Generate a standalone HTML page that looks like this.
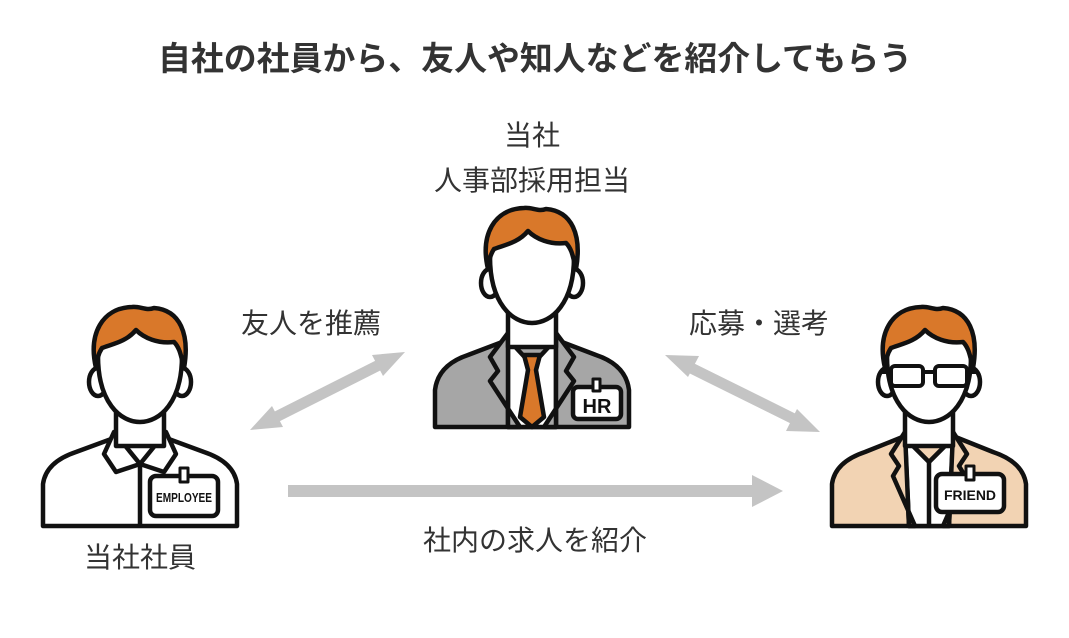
<!DOCTYPE html>
<html><head><meta charset="utf-8"><style>
body{margin:0;background:#fff;}
svg{display:block}
text{font-family:"Liberation Sans","Noto Sans CJK JP",sans-serif;fill:#333}
</style></head><body>
<svg width="1069" height="638" viewBox="0 0 1069 638" xmlns="http://www.w3.org/2000/svg">
<defs>
<g id="head" stroke="#111" stroke-width="4.5" stroke-linejoin="round">
  <rect x="76" y="100" width="48" height="42" fill="#fff"/>
  <ellipse cx="58" cy="78" rx="9" ry="14" fill="#fff"/>
  <ellipse cx="142" cy="78" rx="9" ry="14" fill="#fff"/>
  <path d="M58,52 C58,98 80,118 100,118 C120,118 142,98 142,52 C142,20 125,8 100,8 C75,8 58,20 58,52 Z" fill="#fff"/>
  <path d="M56,64 C48,30 62,4 92,3 C100,2 106,7 114,4 C140,6 150,30 144,64 C141,52 140,44 134,38 C118,40 104,34 96,26 C86,38 72,40 62,44 C58,50 57,56 56,64 Z" fill="#d9782a"/>
</g>
</defs>

<text x="535" y="70" font-size="33" font-weight="bold" text-anchor="middle" textLength="754" lengthAdjust="spacingAndGlyphs">自社の社員から、友人や知人などを紹介してもらう</text>
<text x="532" y="145" font-size="28" text-anchor="middle">当社</text>
<text x="532" y="190" font-size="28" text-anchor="middle">人事部採用担当</text>
<text x="311" y="333" font-size="28" text-anchor="middle">友人を推薦</text>
<text x="759" y="333" font-size="28" text-anchor="middle">応募・選考</text>
<text x="140" y="567" font-size="28" text-anchor="middle">当社社員</text>
<text x="535" y="550" font-size="28" text-anchor="middle">社内の求人を紹介</text>

<g fill="#c4c4c4" stroke="none">
  <line x1="268" y1="421" x2="387" y2="361" stroke="#c4c4c4" stroke-width="11"/>
  <polygon points="250,430 272,406 283,427"/>
  <polygon points="405,352 372,355 383,376"/>
  <line x1="683" y1="364" x2="802" y2="423" stroke="#c4c4c4" stroke-width="11"/>
  <polygon points="665,355 688,377 699,356"/>
  <polygon points="820,432 786,431 797,409"/>
  <rect x="288" y="485" width="470" height="12"/>
  <polygon points="783,491 752,475 752,507"/>
</g>

<g transform="translate(432,205)" stroke="#111" stroke-width="4.5" stroke-linejoin="round">
  <path d="M3,222 L3,185 Q6,160 36,150 L78,134 L122,134 L164,150 Q194,160 197,185 L197,222 Z" fill="#a6a6a6"/>
  <path d="M76,134 L100,160 L124,134 L124,222 L76,222 Z" fill="#fff"/>
  <path d="M92,150 L108,150 L104,165 L112,212 L100,222 L88,212 L96,165 Z" fill="#d9782a"/>
  <path d="M76,128 L58,152 L66,166 L58,176 L88,222 L76,222 Z" fill="#a6a6a6"/>
  <path d="M124,128 L142,152 L134,166 L142,176 L112,222 L124,222 Z" fill="#a6a6a6"/>
  <use href="#head"/>
  <rect x="141" y="182" width="48" height="32" rx="5" fill="#fff"/>
  <rect x="161" y="174" width="7" height="12" fill="#fff" stroke-width="3"/>
  <text x="165" y="208" font-size="20" font-weight="bold" text-anchor="middle" stroke="none" style="fill:#111">HR</text>
</g>

<g transform="translate(40,304)" stroke="#111" stroke-width="4.5" stroke-linejoin="round">
  <path d="M3,222 L3,180 Q6,158 36,148 L74,134 L126,134 L164,148 Q194,158 197,180 L197,222 Z" fill="#fff"/>
  <line x1="100" y1="160" x2="100" y2="222"/>
  <path d="M74,128 L64,150 L76,168 L100,160 Z" fill="#fff"/>
  <path d="M126,128 L136,150 L124,168 L100,160 Z" fill="#fff"/>
  <use href="#head"/>
  <rect x="110" y="172" width="68" height="40" rx="6" fill="#fff"/>
  <rect x="140" y="164" width="8" height="14" fill="#fff" stroke-width="3"/>
  <text x="144" y="198" font-size="13" font-weight="bold" text-anchor="middle" stroke="none" style="fill:#111" textLength="56" lengthAdjust="spacingAndGlyphs">EMPLOYEE</text>
</g>

<g transform="translate(829,304)" stroke="#111" stroke-width="4.5" stroke-linejoin="round">
  <path d="M3,222 L3,180 Q6,158 36,148 L76,132 L124,132 L164,148 Q194,158 197,180 L197,222 Z" fill="#f2d3b3"/>
  <path d="M76,134 L100,158 L124,134 L120,222 L80,222 Z" fill="#fff"/>
  <line x1="100" y1="158" x2="100" y2="222"/>
  <path d="M76,128 L62,150 L70,162 L64,172 L86,222 L80,222 Z" fill="#f2d3b3"/>
  <path d="M124,128 L138,150 L130,162 L136,172 L114,222 L120,222 Z" fill="#f2d3b3"/>
  <use href="#head"/>
  <g fill="#fff" stroke-width="4">
    <rect x="62" y="62" width="32" height="20" rx="4"/>
    <rect x="106" y="62" width="32" height="20" rx="4"/>
    <line x1="94" y1="68" x2="106" y2="68"/>
    <line x1="52" y1="68" x2="62" y2="68"/>
    <line x1="138" y1="68" x2="148" y2="68"/>
  </g>
  <rect x="107" y="170" width="68" height="38" rx="6" fill="#fff"/>
  <rect x="137" y="162" width="8" height="14" fill="#fff" stroke-width="3"/>
  <text x="141" y="196" font-size="14" font-weight="bold" text-anchor="middle" stroke="none" style="fill:#111" textLength="52" lengthAdjust="spacingAndGlyphs">FRIEND</text>
</g>
</svg>
</body></html>
